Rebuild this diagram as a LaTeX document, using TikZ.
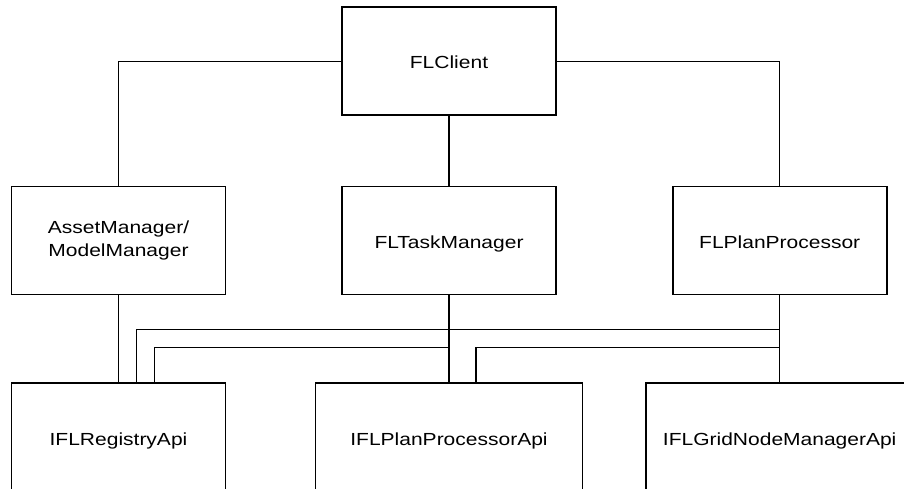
\documentclass[tikz,border=0pt]{standalone}
\usepackage{fontspec}
\setmainfont{Liberation Sans}[FakeStretch=1.2]
\begin{document}
\begin{tikzpicture}[x=1pt,y=-1pt,
  box/.style={draw, line width=1.7pt, inner sep=0pt, minimum width=214pt,
    minimum height=108pt, font=\fontsize{17.5}{22.7}\selectfont,
    text height=15.4pt, text depth=0pt, align=center},
  wide/.style={box, minimum width=267pt},
  link/.style={line width=1.4pt}]
\useasboundingbox (0,0) rectangle (904,489);
\clip (0,0) rectangle (904,489);

% top level
\node[box] (client) at (449,61.3) {FLClient};

% managers
\node[box, text height=, text depth=] (asset) at (118.5,240.5) {AssetManager/\\ModelManager};
\node[box] (task) at (449,240.5) {FLTaskManager};
\node[box] (plan) at (779.7,240.5) {FLPlanProcessor};

% APIs
\node[box] (reg) at (118.5,437.3) {IFLRegistryApi};
\node[wide] (ppa) at (449,437.3) {IFLPlanProcessorApi};
\node[wide] (grid) at (779.7,437.3) {IFLGridNodeManagerApi};

% client to managers
\draw[link] (client.west) -| (asset.north);
\draw[link] (client.east) -| (plan.north);
\draw[link] (client.south) -- (task.north);

% straight drops
\draw[link] (asset.south) -- (reg.north);
\draw[link] (task.south) -- (ppa.north);
\draw[link] (plan.south) -- (grid.north);

% bus levels and side entry points
\coordinate (busA) at (0,329.3);
\coordinate (busB) at (0,347.7);
\coordinate (regB) at ([xshift=18.1pt]reg.north);
\coordinate (regC) at ([xshift=36pt]reg.north);
\coordinate (ppaB) at ([xshift=27pt]ppa.north);

\draw[link] (plan.south) |- (regB |- busA) -- (regB);
\draw[link] (task.south) |- (regC |- busB) -- (regC);
\draw[link] (plan.south) |- (ppaB |- busB) -- (ppaB);
\end{tikzpicture}
\end{document}
